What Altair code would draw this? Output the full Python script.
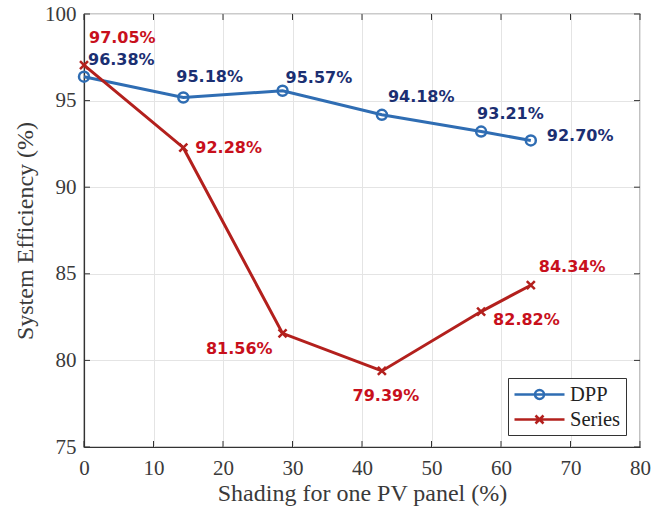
import altair as alt
import pandas as pd

# ---- data ----
shading = [0, 14.29, 28.57, 42.86, 57.14, 64.29]
dpp_eff = [96.38, 95.18, 95.57, 94.18, 93.21, 92.70]
series_eff = [97.05, 92.28, 81.56, 79.39, 82.82, 84.34]
series_names = ["DPP", "Series"]
x_ticks = [0, 10, 20, 30, 40, 50, 60, 70, 80]
y_ticks = [75, 80, 85, 90, 95, 100]

# ---- label placement (style, not data) ----
dpp_label_dx = [4, -7, 3, 6, -4, 16]
dpp_label_dy = [-17, -20, -13, -18, -18, -4]
dpp_label_align = ["left"] * 6
ser_label_dx = [5, 12, -10, 4, 12, 8]
ser_label_dy = [-27, 0, 16, 25, 8, -18]
ser_label_align = ["left", "left", "right", "center", "left", "left"]

rows = []
for i, (x, v) in enumerate(zip(shading, dpp_eff)):
    rows.append({"idx": i, "x": x, "y": v, "series": "DPP", "label": f"{v:.2f}%"})
for i, (x, v) in enumerate(zip(shading, series_eff)):
    rows.append({"idx": i, "x": x, "y": v, "series": "Series", "label": f"{v:.2f}%"})
df = pd.DataFrame(rows)

W, H = 556, 433
line_colors = ["#2f6db3", "#b3201d"]
text_colors = {"DPP": "#1b2f72", "Series": "#c8101c"}

xscale = alt.Scale(domain=[0, 80], nice=False)
yscale = alt.Scale(domain=[75, 100], nice=False)

xenc = alt.X("x:Q", scale=xscale, title="Shading for one PV panel (%)",
             axis=alt.Axis(values=x_ticks, tickSize=0, labelPadding=10, titlePadding=3,
                           labelFontSize=21, titleFontSize=24, labelFlush=False))
yenc = alt.Y("y:Q", scale=yscale, title="System Efficiency (%)",
             axis=alt.Axis(values=y_ticks, tickSize=0, labelPadding=8, titlePadding=7,
                           labelFontSize=21, titleFontSize=24, labelFlush=False))

leg_dpp = "M-1,0L4,0M1.05,0A0.45,0.45 0 1,1 1.95,0A0.45,0.45 0 1,1 1.05,0"
leg_ser = "M-1,0L4,0M1.1,-0.4L1.9,0.4M1.1,0.4L1.9,-0.4"

color = alt.Color(
    "series:N",
    scale=alt.Scale(domain=series_names, range=line_colors),
    legend=alt.Legend(
        orient="none", legendX=424, legendY=364, title=None,
        strokeColor="#333", fillColor="white", padding=5,
        symbolSize=400, symbolStrokeWidth=2.5, labelOffset=34,
        symbolFillColor="transparent",
        labelFont="Liberation Serif", labelFontSize=20.5, labelColor="#222",
        rowPadding=3,
        symbolType={"expr": f"datum.value == 'DPP' ? '{leg_dpp}' : '{leg_ser}'"},
    ),
)

base = alt.Chart(df)

lines = base.mark_line(strokeWidth=3).encode(x=xenc, y=yenc, color=color, detail="series:N")

point_shapes = {"DPP": "circle", "Series": "M-0.8,-0.8L0.8,0.8M-0.8,0.8L0.8,-0.8"}
point_layers = []
for name, col in zip(series_names, line_colors):
    point_layers.append(
        base.transform_filter(alt.datum.series == name)
        .mark_point(filled=False, strokeWidth=2.5, size=100, opacity=1,
                    shape=point_shapes[name], color=col)
        .encode(x="x:Q", y="y:Q")
    )

labels = []
for name, dxs, dys, aligns in [("DPP", dpp_label_dx, dpp_label_dy, dpp_label_align),
                                ("Series", ser_label_dx, ser_label_dy, ser_label_align)]:
    for i in range(len(shading)):
        labels.append(
            base.transform_filter((alt.datum.series == name) & (alt.datum.idx == i))
            .mark_text(dx=dxs[i], dy=dys[i], align=aligns[i], baseline="middle",
                       font="DejaVu Sans", fontSize=16, fontWeight="bold",
                       color=text_colors[name])
            .encode(x="x:Q", y="y:Q", text="label:N")
        )

tick_df_x = pd.DataFrame({"t": x_ticks})
tick_df_y = pd.DataFrame({"t": y_ticks})
tx_bottom = alt.Chart(tick_df_x).mark_rule(color="#333", strokeWidth=1).encode(
    x=alt.X("t:Q", scale=xscale), y=alt.value(H), y2=alt.value(H - 6))
tx_top = alt.Chart(tick_df_x).mark_rule(color="#333", strokeWidth=1).encode(
    x=alt.X("t:Q", scale=xscale), y=alt.value(0), y2=alt.value(6))
ty_left = alt.Chart(tick_df_y).mark_rule(color="#333", strokeWidth=1).encode(
    y=alt.Y("t:Q", scale=yscale), x=alt.value(0), x2=alt.value(6))
ty_right = alt.Chart(tick_df_y).mark_rule(color="#333", strokeWidth=1).encode(
    y=alt.Y("t:Q", scale=yscale), x=alt.value(W), x2=alt.value(W - 6))

chart = alt.layer(lines, *point_layers, *labels, tx_bottom, tx_top, ty_left, ty_right).properties(
    width=W, height=H,
    background="white",
    autosize=alt.AutoSizeParams(type="none"),
    padding={"left": 84, "top": 14, "right": 26, "bottom": 67},
).configure_view(stroke="#333", strokeWidth=1.2).configure_axis(
    grid=True, gridColor="#e4e4e4", gridWidth=1,
    domainColor="#333", domainWidth=1.2,
    labelFont="Liberation Serif", titleFont="Liberation Serif",
    labelColor="#3a3a3a", titleColor="#3a3a3a", titleFontWeight="normal",
)

chart.save("out.html", embed_options={"renderer": "svg", "actions": False})
